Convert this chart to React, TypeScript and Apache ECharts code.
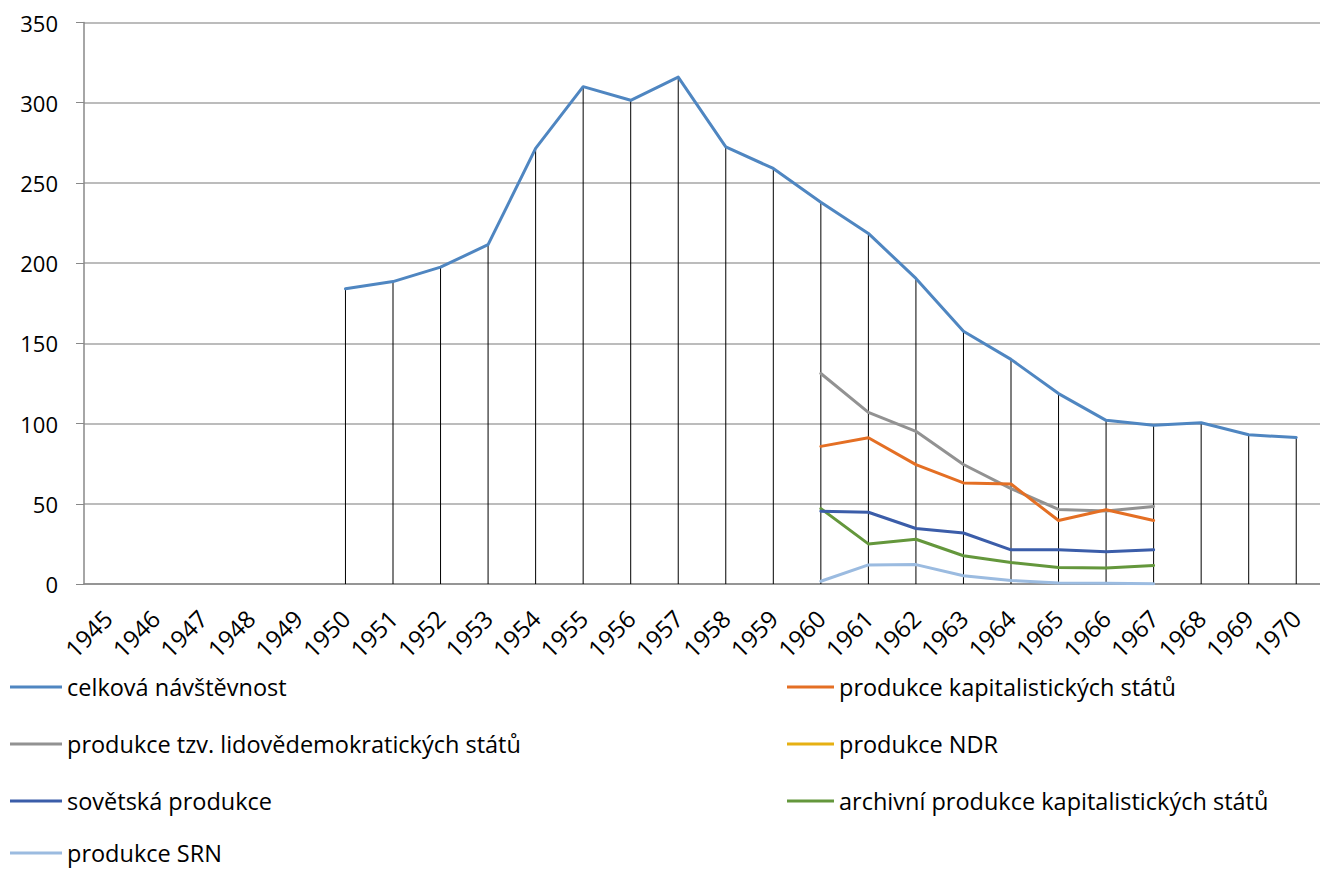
import React, { useEffect, useRef } from "react";
import * as echarts from "echarts";

const years = [
  "1945", "1946", "1947", "1948", "1949", "1950", "1951", "1952", "1953", "1954",
  "1955", "1956", "1957", "1958", "1959", "1960", "1961", "1962", "1963", "1964",
  "1965", "1966", "1967", "1968", "1969", "1970",
];

const celkova = [
  null, null, null, null, null, 184, 188.5, 197.5, 211.5, 271.5,
  310, 301.5, 316, 272.5, 259, 238, 218.5, 190.5, 157.5, 140,
  118.7, 102, 99, 100.5, 93, 91.3,
];
const kapitalisticke = [
  null, null, null, null, null, null, null, null, null, null,
  null, null, null, null, null, 85.8, 91.2, 74.4, 63, 62.3,
  39.6, 46.3, 39.6, null, null, null,
];
const lidovedemokraticke = [
  null, null, null, null, null, null, null, null, null, null,
  null, null, null, null, null, 131.2, 107, 95.2, 74.5, 59.5,
  46.5, 45.5, 48.3, null, null, null,
];
const ndr = [
  null, null, null, null, null, null, null, null, null, null,
  null, null, null, null, null, null, null, null, null, null,
  null, null, null, null, null, null,
];
const sovetska = [
  null, null, null, null, null, null, null, null, null, null,
  null, null, null, null, null, 45.3, 44.7, 34.6, 31.8, 21.3,
  21.3, 20.1, 21.3, null, null, null,
];
const archivni = [
  null, null, null, null, null, null, null, null, null, null,
  null, null, null, null, null, 47, 25, 27.9, 17.6, 13.4,
  10.3, 9.9, 11.5, null, null, null,
];
const srn = [
  null, null, null, null, null, null, null, null, null, null,
  null, null, null, null, null, 1.7, 11.9, 12.1, 5.1, 2.2,
  0.6, 0.4, 0.1, null, null, null,
];

const yTicks = [0, 50, 100, 150, 200, 250, 300, 350];

const FONT = "'Open Sans'";

export default function App() {
  const ref = useRef<HTMLDivElement>(null);

  useEffect(() => {
    if (!ref.current) return;
    const chart = echarts.init(ref.current, null, { renderer: "svg" });

    const names = [
      "celková návštěvnost",
      "produkce kapitalistických států",
      "produkce tzv. lidovědemokratických států",
      "produkce NDR",
      "sovětská produkce",
      "archivní produkce kapitalistických států",
      "produkce SRN",
    ];
    const datas = [celkova, kapitalisticke, lidovedemokraticke, ndr, sovetska, archivni, srn];
    const colors = ["#4F86C1", "#E46F24", "#929292", "#E6B012", "#3B5DA9", "#64973C", "#9BBBE0"];

    const lineSeries = names.map((n, i) => ({
      name: n,
      type: "line",
      data: datas[i],
      symbol: "none",
      showSymbol: false,
      connectNulls: false,
      color: colors[i],
      lineStyle: { width: 3, color: colors[i], join: "round", cap: "round" },
      z: 10 + (names.length - i),
    }));

    // legend placement: index -> [left, rowCenterY, iconWidth]
    const legendPos: [number, number, number][] = [
      [10, 686, 52],
      [787, 686, 47],
      [10, 743, 52],
      [787, 743, 47],
      [10, 800, 52],
      [787, 800, 47],
      [10, 852, 52],
    ];

    const legends = names.map((n, i) => ({
      orient: "horizontal",
      icon: "rect",
      itemHeight: 3,
      itemWidth: legendPos[i][2],
      left: legendPos[i][0],
      top: legendPos[i][1] - 11,
      padding: 0,
      textStyle: { fontFamily: FONT, fontSize: 23.5, color: "#000", lineHeight: 22 },
      selectedMode: false,
      data: [n],
    }));

    chart.setOption({
      animation: false,
      backgroundColor: "#fff",
      color: colors,
      legend: legends,
      grid: { left: 84, top: 22.5, width: 1248, height: 561.5 },
      xAxis: {
        type: "category",
        data: years,
        boundaryGap: true,
        axisLine: { show: true, lineStyle: { color: "#888", width: 1.5 } },
        axisTick: { show: false },
        axisLabel: {
          rotate: 45,
          margin: 30,
          interval: 0,
          fontFamily: FONT,
          fontSize: 24,
          color: "#000",
        },
        splitLine: { show: false },
      },
      yAxis: {
        type: "value",
        min: yTicks[0],
        max: yTicks[yTicks.length - 1],
        interval: 50,
        axisLine: { show: true, lineStyle: { color: "#888", width: 1.5 } },
        axisTick: { show: true, length: 8, lineStyle: { color: "#888" } },
        axisLabel: {
          margin: 26,
          fontFamily: FONT,
          fontSize: 22,
          color: "#000",
        },
        splitLine: { show: true, lineStyle: { color: "#A6A6A6", width: 1.5 } },
      },
      series: [
        {
          name: "drop",
          type: "bar",
          data: celkova,
          barWidth: 1,
          itemStyle: { color: "#000" },
          silent: true,
          z: 2,
        },
        ...lineSeries,
      ],
    });

    return () => chart.dispose();
  }, []);

  return (
    <div
      ref={ref}
      style={{ position: "fixed", left: 0, top: 0, width: 1320, height: 869, background: "#fff" }}
    />
  );
}
